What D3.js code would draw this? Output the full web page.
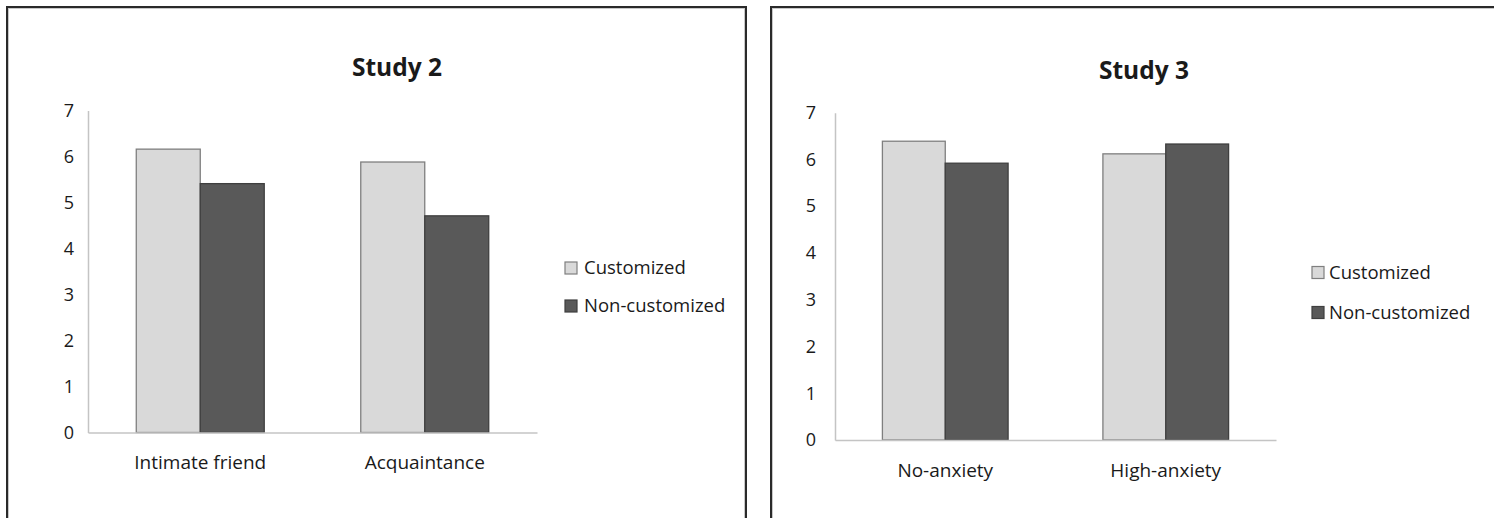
<!DOCTYPE html>
<html>
<head>
<meta charset="utf-8">
<script src="https://cdn.jsdelivr.net/npm/d3@7"></script>
<style>
  html, body { margin: 0; padding: 0; background: #fff; }
  svg { display: block; }
  text { font-family: "Open Sans", "Noto Sans", sans-serif; fill: #1a1a1a; }
</style>
</head>
<body>
<svg id="chart" width="1494" height="518"></svg>
<script>
// Group labels and mean ratings for each study
const study2Categories = ["Intimate friend", "Acquaintance"];
const study2Customized = [6.16, 5.88];
const study2NonCustomized = [5.41, 4.71];

const study3Categories = ["No-anxiety", "High-anxiety"];
const study3Customized = [6.39, 6.12];
const study3NonCustomized = [5.92, 6.33];

const seriesNames = ["Customized", "Non-customized"];
const yTicks = [0, 1, 2, 3, 4, 5, 6, 7];

const fills = ["#d9d9d9", "#595959"];
const strokes = ["#7f7f7f", "#3f3f3f"];

const svg = d3.select("#chart");

const panels = [
  {
    title: "Study 2", categories: study2Categories,
    values: [study2Customized, study2NonCustomized],
    frame: { x: 7, y: 7, w: 739, h: 540 },
    plot: { left: 88, right: 537, top: 110.5, bottom: 432.5 },
    titlePos: { x: 397, y: 76 }, tickGap: 14, catY: 469,
    legend: { x: 565, y: 262, dy: 38, textX: 584 }
  },
  {
    title: "Study 3", categories: study3Categories,
    values: [study3Customized, study3NonCustomized],
    frame: { x: 771, y: 7, w: 760, h: 540 },
    plot: { left: 835, right: 1276, top: 112.7, bottom: 440 },
    titlePos: { x: 1144, y: 79 }, tickGap: 19, catY: 477,
    legend: { x: 1312, y: 266.5, dy: 40, textX: 1329 }
  }
];

panels.forEach(p => {
  const g = svg.append("g");

  // chart frame: dark outer edge with a faint inner line
  g.append("rect")
    .attr("x", p.frame.x).attr("y", p.frame.y)
    .attr("width", p.frame.w).attr("height", p.frame.h)
    .attr("fill", "none").attr("stroke", "#2a2a2a").attr("stroke-width", 2);
  g.append("rect")
    .attr("x", p.frame.x + 1.5).attr("y", p.frame.y + 1.5)
    .attr("width", p.frame.w - 3).attr("height", p.frame.h - 3)
    .attr("fill", "none").attr("stroke", "#c8c8c8").attr("stroke-width", 1);

  const x0 = d3.scaleBand()
    .domain(p.categories)
    .range([p.plot.left, p.plot.right])
    .paddingInner(0.43).paddingOuter(0.215);
  const x1 = d3.scaleBand()
    .domain(seriesNames)
    .range([0, x0.bandwidth()]);
  const y = d3.scaleLinear().domain([0, 7]).range([p.plot.bottom, p.plot.top]);

  // title
  g.append("text")
    .attr("x", p.titlePos.x).attr("y", p.titlePos.y)
    .attr("text-anchor", "middle")
    .style("font-size", "24.5px").style("font-weight", "bold")
    .text(p.title);

  // bars
  seriesNames.forEach((s, si) => {
    g.append("g").selectAll("rect")
      .data(p.categories.map((c, ci) => ({ c, v: p.values[si][ci] })))
      .join("rect")
      .attr("x", d => x0(d.c) + x1(s))
      .attr("y", d => y(d.v))
      .attr("width", x1.bandwidth())
      .attr("height", d => y(0) - y(d.v))
      .attr("fill", fills[si])
      .attr("stroke", strokes[si])
      .attr("stroke-width", 1.3);
  });

  // y axis
  const yAxis = g.append("g")
    .attr("transform", `translate(${p.plot.left},0)`)
    .call(d3.axisLeft(y).tickValues(yTicks).tickFormat(d3.format("d"))
      .tickSize(0).tickPadding(p.tickGap));
  yAxis.select(".domain").attr("stroke", "#c4c4c4").attr("stroke-width", 1.5);
  yAxis.selectAll("text")
    .style("font-size", "18px").attr("fill", "#1a1a1a")
    .style("font-family", "'Open Sans', 'Noto Sans', sans-serif");

  // x axis
  const xAxis = g.append("g")
    .attr("transform", `translate(0,${p.plot.bottom})`)
    .call(d3.axisBottom(x0).tickSize(0).tickPadding(0));
  xAxis.select(".domain").attr("stroke", "#c4c4c4").attr("stroke-width", 1.5);
  xAxis.selectAll("text")
    .attr("dy", 0)
    .attr("y", p.catY - p.plot.bottom)
    .style("font-size", "19px").attr("fill", "#1a1a1a")
    .style("font-family", "'Open Sans', 'Noto Sans', sans-serif");

  // legend
  const lg = g.append("g");
  seriesNames.forEach((s, si) => {
    const ly = p.legend.y + si * p.legend.dy;
    lg.append("rect")
      .attr("x", p.legend.x).attr("y", ly)
      .attr("width", 12).attr("height", 12)
      .attr("fill", fills[si]).attr("stroke", strokes[si]).attr("stroke-width", 1.2);
    lg.append("text")
      .attr("x", p.legend.textX).attr("y", ly + 6)
      .attr("dy", "0.35em")
      .style("font-size", "18.5px")
      .text(s);
  });
});
</script>
</body>
</html>
